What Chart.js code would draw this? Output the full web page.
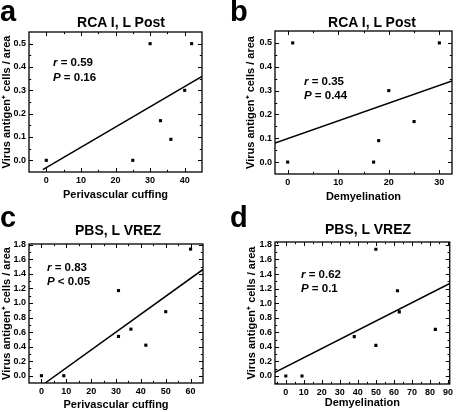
<!DOCTYPE html>
<html>
<head>
<meta charset="utf-8">
<script src="https://cdn.jsdelivr.net/npm/chart.js@4.4.1/dist/chart.umd.min.js"></script>
<style>
  body { margin: 0; background: #fff; }
  #wrap { position: relative; width: 456px; height: 412px; font-family: "Liberation Sans", Arial, sans-serif; font-weight: bold; color: #000; }
  canvas { position: absolute; }
  .t { position: absolute; white-space: nowrap; line-height: 1; }
  .letter { font-size: 29px; }
  .title { font-size: 14px; transform: translate(-50%, -50%); }
  .stat { font-size: 11.5px; transform: translateY(-50%); }
</style>
</head>
<body>
<div id="wrap">
  <canvas id="cA" width="228" height="206" style="left:0;top:0"></canvas>
  <canvas id="cB" width="228" height="206" style="left:228px;top:0"></canvas>
  <canvas id="cC" width="228" height="206" style="left:0;top:206px"></canvas>
  <canvas id="cD" width="228" height="206" style="left:228px;top:206px"></canvas>

  <div class="t letter" style="left:0px;top:-3px">a</div>
  <div class="t letter" style="left:230px;top:-3px">b</div>
  <div class="t letter" style="left:0px;top:203px">c</div>
  <div class="t letter" style="left:230px;top:203px">d</div>

  <div class="t title" style="left:121px;top:22px">RCA I, L Post</div>
  <div class="t title" style="left:372px;top:22px">RCA I, L Post</div>
  <div class="t title" style="left:118px;top:230px">PBS, L VREZ</div>
  <div class="t title" style="left:368px;top:229px">PBS, L VREZ</div>

  <div class="t stat" style="left:53px;top:63px"><i>r</i> = 0.59</div>
  <div class="t stat" style="left:53px;top:78px"><i>P</i> = 0.16</div>
  <div class="t stat" style="left:304px;top:82px"><i>r</i> = 0.35</div>
  <div class="t stat" style="left:304px;top:96px"><i>P</i> = 0.44</div>
  <div class="t stat" style="left:47px;top:268px"><i>r</i> = 0.83</div>
  <div class="t stat" style="left:47px;top:282px"><i>P</i> &lt; 0.05</div>
  <div class="t stat" style="left:301px;top:275px"><i>r</i> = 0.62</div>
  <div class="t stat" style="left:301px;top:289px"><i>P</i> = 0.1</div>
</div>

<script>
// panel a: RCA I, perivascular cuffing
const cuffA = [0, 25, 30, 33, 36, 40, 42];
const virusA = [0, 0, 0.5, 0.17, 0.09, 0.3, 0.5];
const fitA = [{ x: -1, y: -0.04 }, { x: 45, y: 0.36 }];

// panel b: RCA I, demyelination
const demyB = [0, 1, 17, 18, 20, 25, 30];
const virusB = [0, 0.5, 0, 0.09, 0.3, 0.17, 0.5];
const fitB = [{ x: -2.5, y: 0.08 }, { x: 32.5, y: 0.34 }];

// panel c: PBS, perivascular cuffing
const cuffC = [0, 9, 31, 31, 36, 42, 50, 60];
const virusC = [0, 0, 1.17, 0.54, 0.64, 0.42, 0.88, 1.74];
const fitC = [{ x: 1.5, y: -0.1 }, { x: 65, y: 1.46 }];

// panel d: PBS, demyelination
const demyD = [0, 9, 38, 50, 50, 62, 63, 83];
const virusD = [0, 0, 0.54, 1.74, 0.42, 1.17, 0.88, 0.64];
const fitD = [{ x: -6, y: 0.05 }, { x: 91, y: 1.27 }];

// tick labels
const xTicksA = [0, 10, 20, 30, 40];
const xTicksB = [0, 10, 20, 30];
const xTicksC = [0, 10, 20, 30, 40, 50, 60];
const xTicksD = [0, 10, 20, 30, 40, 50, 60, 70, 80, 90];
const yTicksRCA = [0, 0.1, 0.2, 0.3, 0.4, 0.5];
const yTicksPBS = [0, 0.2, 0.4, 0.6, 0.8, 1.0, 1.2, 1.4, 1.6, 1.8];

const FONT = '"Liberation Sans", Arial, sans-serif';

// box frame with inward major/minor ticks on all four sides
const frameTicks = {
  id: 'frameTicks',
  afterDatasetsDraw(chart) {
    const { ctx, chartArea: a, scales } = chart;
    ctx.save();
    ctx.strokeStyle = '#000';
    ctx.lineWidth = 1.3;
    ctx.strokeRect(a.left, a.top, a.right - a.left, a.bottom - a.top);
    ctx.lineWidth = 1;
    ctx.beginPath();
    const marks = (scale) => {
      const v = scale.ticks.map(t => t.value);
      const step = v[1] - v[0];
      const out = v.map(val => ({ val, len: 4 }));
      const mids = [v[0] - step / 2];
      for (let i = 0; i < v.length - 1; i++) mids.push((v[i] + v[i + 1]) / 2);
      mids.push(v[v.length - 1] + step / 2);
      mids.forEach(m => {
        if (m > scale.min && m < scale.max) out.push({ val: m, len: 2.2 });
      });
      return out;
    };
    marks(scales.x).forEach(({ val, len }) => {
      const px = Math.round(scales.x.getPixelForValue(val)) + 0.5;
      ctx.moveTo(px, a.bottom); ctx.lineTo(px, a.bottom - len);
      ctx.moveTo(px, a.top); ctx.lineTo(px, a.top + len);
    });
    marks(scales.y).forEach(({ val, len }) => {
      const py = Math.round(scales.y.getPixelForValue(val)) + 0.5;
      ctx.moveTo(a.left, py); ctx.lineTo(a.left + len, py);
      ctx.moveTo(a.right, py); ctx.lineTo(a.right - len, py);
    });
    ctx.stroke();
    ctx.restore();
  }
};

function makePanel(id, p) {
  new Chart(document.getElementById(id), {
    type: 'scatter',
    data: {
      datasets: [
        {
          data: p.xs.map((x, i) => ({ x, y: p.ys[i] })),
          backgroundColor: '#000',
          borderWidth: 0,
          pointStyle: 'rect',
          pointRadius: 2.2
        },
        {
          data: p.fit,
          showLine: true,
          borderColor: '#000',
          borderWidth: 1.5,
          pointRadius: 0,
          clip: 0
        }
      ]
    },
    options: {
      responsive: false,
      animation: false,
      layout: { padding: p.pad },
      plugins: { legend: { display: false }, tooltip: { enabled: false } },
      scales: {
        x: {
          type: 'linear',
          min: p.xmin, max: p.xmax,
          afterBuildTicks: s => { s.ticks = p.xt.map(v => ({ value: v })); },
          afterFit: s => { s.height = p.xh; },
          grid: { display: false, drawTicks: false },
          border: { display: false },
          ticks: {
            autoSkip: false, maxRotation: 0, padding: 3, color: '#000',
            font: { family: FONT, size: 9, weight: 'bold' },
            callback: v => String(v)
          },
          title: {
            display: true, text: p.xlabel, color: '#000', padding: 0,
            font: { family: FONT, size: 11, weight: 'bold' }
          }
        },
        y: {
          type: 'linear',
          min: p.ymin, max: p.ymax,
          afterBuildTicks: s => { s.ticks = p.yt.map(v => ({ value: v })); },
          afterFit: s => { s.width = p.yw; },
          grid: { display: false, drawTicks: false },
          border: { display: false },
          ticks: {
            autoSkip: false, padding: 3, color: '#000',
            font: { family: FONT, size: 9, weight: 'bold' },
            callback: v => Number(v).toFixed(1)
          },
          title: {
            display: true, text: 'Virus antigen\u207A cells / area', color: '#000', padding: 0,
            font: { family: FONT, size: 11, weight: 'bold' }
          }
        }
      }
    },
    plugins: [frameTicks]
  });
}

makePanel('cA', {
  xs: cuffA, ys: virusA, fit: fitA, xt: xTicksA, yt: yTicksRCA,
  xmin: -5, xmax: 45, ymin: -0.05, ymax: 0.55,
  xlabel: 'Perivascular cuffing',
  pad: { left: 0, top: 32, right: 26, bottom: 4 }, yw: 29, xh: 30
});
makePanel('cB', {
  xs: demyB, ys: virusB, fit: fitB, xt: xTicksB, yt: yTicksRCA,
  xmin: -2.5, xmax: 32.5, ymin: -0.05, ymax: 0.55,
  xlabel: 'Demyelination',
  pad: { left: 16, top: 31, right: 3, bottom: 2 }, yw: 31, xh: 30
});
makePanel('cC', {
  xs: cuffC, ys: virusC, fit: fitC, xt: xTicksC, yt: yTicksPBS,
  xmin: -5, xmax: 65, ymin: -0.1, ymax: 1.81,
  xlabel: 'Perivascular cuffing',
  pad: { left: 0, top: 38, right: 25, bottom: 0 }, yw: 29, xh: 29
});
makePanel('cD', {
  xs: demyD, ys: virusD, fit: fitD, xt: xTicksD, yt: yTicksPBS,
  xmin: -6, xmax: 91, ymin: -0.11, ymax: 1.84,
  xlabel: 'Demyelination',
  pad: { left: 17, top: 36, right: 5, bottom: 2 }, yw: 30, xh: 26
});
</script>
</body>
</html>
